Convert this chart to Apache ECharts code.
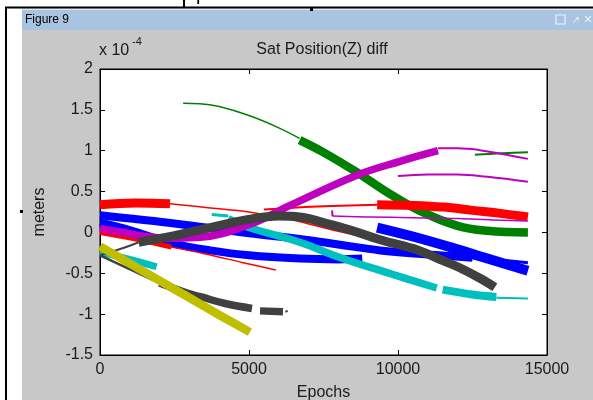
<!DOCTYPE html>
<html>
<head>
<meta charset="utf-8">
<script src="https://cdn.jsdelivr.net/npm/echarts@6/dist/echarts.min.js"></script>
<style>html,body{margin:0;padding:0;background:#fff}#c{width:593px;height:400px}</style>
</head>
<body>
<div id="c"></div>
<script>
// ---- axis ticks ----
const xTicks = [0, 5000, 10000, 15000];
const yTicks = [-1.5, -1, -0.5, 0, 0.5, 1, 1.5, 2];

// ---- series data: [epoch, value x1e-4 m] ----
// blue
const blueUpper = [[0,0.21],[1000,0.17],[2500,0.11],[4000,0.04],[5000,-0.01],[6700,-0.08],[8050,-0.15],[9400,-0.22],[11000,-0.27],[12500,-0.31]];
const blueUpperThin = [[12500,-0.31],[13500,-0.34],[14360,-0.37]];
const blueLower = [[0,0.12],[800,0.05],[1500,-0.03],[2500,-0.14],[3700,-0.22],[5000,-0.28],[6700,-0.32],[8000,-0.33],[8800,-0.32]];
const blueLate = [[9300,0.06],[10500,-0.05],[11750,-0.18],[13000,-0.32],[14360,-0.47]];
// green
const greenThinA = [[2790,1.58],[3350,1.575],[4000,1.54],[5000,1.43],[6000,1.28],[6700,1.15]];
const greenThick = [[6700,1.13],[7500,0.98],[8600,0.74],[9600,0.5],[10700,0.27],[12000,0.08],[13000,0.02],[14360,0.0]];
const greenThinB = [[12580,0.95],[13500,0.97],[14360,0.98]];
// red
const redAThick = [[0,0.34],[1200,0.36],[2350,0.35]];
const redAThin = [[2350,0.35],[3700,0.30],[5000,0.25],[6500,0.15],[7800,0.03],[9060,-0.07]];
const redBThin = [[5500,0.28],[6400,0.30],[7500,0.32],[9300,0.34]];
const redBThick = [[9300,0.34],[10500,0.33],[11500,0.31],[12500,0.27],[13500,0.23],[14360,0.19]];
const redCThick = [[0,0.0],[1200,-0.08],[2400,-0.18]];
const redCThin = [[2400,-0.18],[3500,-0.26],[4800,-0.37],[5900,-0.46]];
// cyan
const cyanLeft = [[0,-0.24],[1000,-0.33],[1900,-0.42]];
const cyanMark = [[3750,0.22],[4300,0.2]];
const cyanMain = [[4300,0.17],[5000,0.06],[6700,-0.12],[8000,-0.30],[9700,-0.50],[11300,-0.68]];
const cyanEnd = [[11500,-0.70],[12500,-0.76],[13300,-0.79]];
const cyanThin = [[13300,-0.80],[14360,-0.81]];
// magenta
const magThick = [[0,0.05],[800,0.0],[1500,-0.05],[2500,-0.07],[3360,-0.06],[5030,0.1],[6380,0.33],[8620,0.70],[10070,0.87],[11340,1.0]];
const magThinA = [[11340,1.03],[12000,1.03],[12700,1.01],[13500,0.96],[14360,0.9]];
const magThinB = [[10000,0.69],[11000,0.71],[12000,0.71],[13000,0.68],[14360,0.62]];
const magThinC = [[7800,0.2],[9000,0.19],[10500,0.18],[12000,0.17],[13500,0.15],[14360,0.14]];
const magTick = [[7790,0.27],[7800,0.2]];
// dark grey
const greyArcThin = [[0,-0.28],[700,-0.2],[1300,-0.12]];
const greyArc = [[1300,-0.12],[2500,-0.04],[3700,0.06],[5000,0.16],[6000,0.2],[6700,0.19],[7500,0.12],[8400,0.03],[9400,-0.09],[10700,-0.22],[11400,-0.33],[12000,-0.42],[12750,-0.56],[13250,-0.67]];
const greyLowThin = [[0,-0.28],[1120,-0.47],[2000,-0.62]];
const greyLow = [[2000,-0.62],[2900,-0.74],[3400,-0.79],[4200,-0.87],[5100,-0.93]];
const greyLowEnd = [[5370,-0.96],[6140,-0.97]];
const greyDot = [[6220,-0.97],[6300,-0.96]];
// yellow
const yellowLine = [[0,-0.17],[1000,-0.38],[2000,-0.59],[3000,-0.80],[4000,-1.01],[5030,-1.22]];

const C = {b:'#0000ff', g:'#008000', r:'#ff0000', c:'#00bfbf', m:'#bf00bf', y:'#bfbf00', k:'#404040'};
function seg(data, color, width, z){
  return {type:'line', data:data, smooth:0.4, symbol:'none', showSymbol:false, silent:true,
    animation:false, z:z, lineStyle:{color:color, width:width, cap:'butt', join:'round'}};
}
const series = [
  seg(blueUpper, C.b, 8, 2), seg(blueUpperThin, C.b, 3, 2), seg(blueLower, C.b, 8, 2), seg(blueLate, C.b, 10, 2),
  seg(greenThinA, C.g, 1.5, 3), seg(greenThick, C.g, 8.5, 3), seg(greenThinB, C.g, 2, 3),
  seg(redAThick, C.r, 9, 4), seg(redAThin, C.r, 1.5, 4), seg(redBThin, C.r, 2, 4), seg(redBThick, C.r, 9, 4),
  seg(redCThick, C.r, 5, 4), seg(redCThin, C.r, 1.5, 4),
  seg(cyanLeft, C.c, 7, 5), seg(cyanMark, C.c, 3, 5), seg(cyanMain, C.c, 7.5, 5), seg(cyanEnd, C.c, 8, 5), seg(cyanThin, C.c, 2, 5),
  seg(magThick, C.m, 7.5, 6), seg(magThinA, C.m, 2, 6), seg(magThinB, C.m, 2, 6), seg(magThinC, C.m, 1.5, 6), seg(magTick, C.m, 2, 6),
  seg(greyArcThin, C.k, 2, 7), seg(greyArc, C.k, 9, 7), seg(greyLowThin, C.k, 2.5, 7), seg(greyLow, C.k, 7.5, 7),
  seg(greyLowEnd, C.k, 7.5, 7), seg(greyDot, C.k, 2, 7),
  seg(yellowLine, C.y, 8.5, 8)
];

const FONT = 'Liberation Sans, Arial, sans-serif';
const axisCommon = {
  type:'value', splitLine:{show:false},
  axisLine:{show:true, onZero:false, lineStyle:{color:'#000', width:1}},
  axisTick:{show:true, inside:true, length:5, lineStyle:{color:'#000'}}
};
const plain = function(v){ return String(v); };
const chart = echarts.init(document.getElementById('c'), null, {renderer:'canvas'});
chart.setOption({
  backgroundColor:'#fff',
  animation:false,
  graphic:[
    {type:'rect', z:-100, shape:{x:22, y:30, width:571, height:370}, style:{fill:'#c8c8c8'}},
    {type:'rect', z:-100, shape:{x:22, y:10, width:571, height:20}, style:{fill:'#a9c4e0'}},
    {type:'rect', z:-100, shape:{x:22, y:8, width:571, height:2}, style:{fill:'#e6e6e6'}},
    {type:'line', z:-90, shape:{x1:5, y1:7.5, x2:593, y2:7.5}, style:{stroke:'#000', lineWidth:2}},
    {type:'line', z:-90, shape:{x1:6, y1:7, x2:6, y2:400}, style:{stroke:'#000', lineWidth:2}},
    {type:'line', z:-90, shape:{x1:184, y1:0, x2:184, y2:8}, style:{stroke:'#000', lineWidth:2}},
    {type:'rect', z:-90, shape:{x:310, y:8, width:3, height:3}, style:{fill:'#000'}},
    {type:'rect', z:-90, shape:{x:20, y:210, width:3, height:3}, style:{fill:'#000'}},
    {type:'text', z:-90, x:196, y:4, style:{text:'position reference', font:'20px '+FONT, fill:'#000', textVerticalAlign:'bottom'}},
    {type:'text', z:-80, x:25, y:20, style:{text:'Figure 9', font:'12px '+FONT, fill:'#000', textVerticalAlign:'middle'}},
    {type:'rect', z:-80, shape:{x:556, y:15, width:9, height:9}, style:{fill:'none', stroke:'#eef3f9', lineWidth:1.2}},
    {type:'text', z:-80, x:576, y:20, style:{text:'↗', font:'10px DejaVu Sans', fill:'#eef3f9', textAlign:'center', textVerticalAlign:'middle'}},
    {type:'text', z:-80, x:588, y:20, style:{text:'✕', font:'11px DejaVu Sans', fill:'#eef3f9', textAlign:'center', textVerticalAlign:'middle'}},
    {type:'text', z:-80, x:322, y:50, style:{text:'Sat Position(Z) diff', font:'16px '+FONT, fill:'#1a1a1a', textAlign:'center', textVerticalAlign:'middle'}},
    {type:'text', z:-80, x:99, y:51, style:{text:'x 10', font:'16px '+FONT, fill:'#1a1a1a', textVerticalAlign:'middle'}},
    {type:'text', z:-80, x:132, y:42, style:{text:'-4', font:'11px '+FONT, fill:'#1a1a1a', textVerticalAlign:'middle'}}
  ],
  grid:{left:100, top:69, width:447, height:286, show:true, backgroundColor:'#fff', borderColor:'#000', borderWidth:1,
    containLabel:false, outerBoundsMode:'none'},
  xAxis:[
    Object.assign({}, axisCommon, {position:'bottom', min:xTicks[0], max:xTicks[xTicks.length-1], interval:5000,
      axisLabel:{fontSize:16, fontFamily:FONT, color:'#1a1a1a', margin:7, formatter:plain},
      name:'Epochs', nameLocation:'middle', nameGap:30, nameTextStyle:{fontSize:16, fontFamily:FONT, color:'#1a1a1a'}}),
    Object.assign({}, axisCommon, {position:'top', min:xTicks[0], max:xTicks[xTicks.length-1], interval:5000, axisLabel:{show:false}})
  ],
  yAxis:[
    Object.assign({}, axisCommon, {position:'left', min:yTicks[0], max:yTicks[yTicks.length-1], interval:0.5,
      axisLabel:{fontSize:16, fontFamily:FONT, color:'#1a1a1a', margin:7, formatter:plain},
      name:'meters', nameLocation:'middle', nameGap:52, nameTextStyle:{fontSize:16, fontFamily:FONT, color:'#1a1a1a'}}),
    Object.assign({}, axisCommon, {position:'right', min:yTicks[0], max:yTicks[yTicks.length-1], interval:0.5, axisLabel:{show:false}})
  ],
  series: series
});
</script>
</body>
</html>
